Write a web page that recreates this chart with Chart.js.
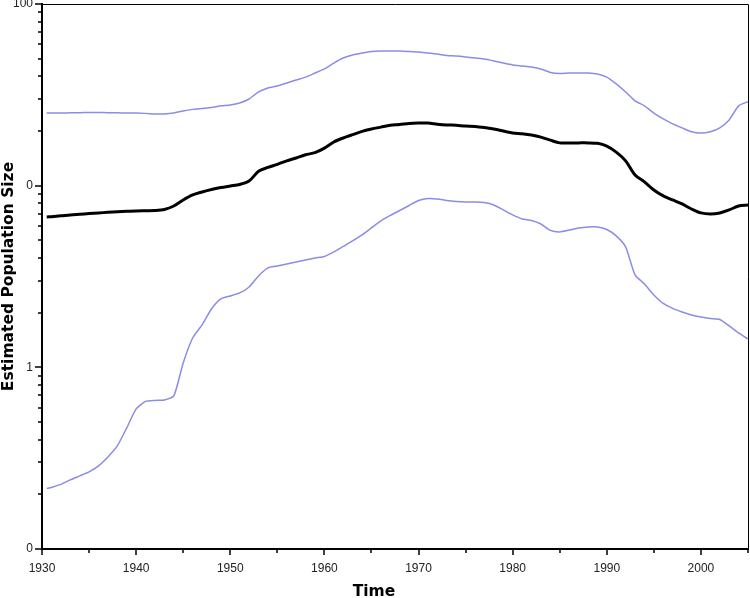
<!DOCTYPE html>
<html><head><meta charset="utf-8">
<script src="https://cdn.jsdelivr.net/npm/chart.js@4/dist/chart.umd.min.js"></script>
<style>html,body{margin:0;padding:0;background:#fff;}</style>
</head><body>
<canvas id="c" width="750" height="598"></canvas>
<script>
const years = [1930.5,
  1931,1932,1933,1934,1935,1936,1937,1938,1939,1940,
  1941,1942,1943,1944,1945,1946,1947,1948,1949,1950,
  1951,1952,1953,1954,1955,1956,1957,1958,1959,1960,
  1961,1962,1963,1964,1965,1966,1967,1968,1969,1970,
  1971,1972,1973,1974,1975,1976,1977,1978,1979,1980,
  1981,1982,1983,1984,1985,1986,1987,1988,1989,1990,
  1991,1992,1993,1994,1995,1996,1997,1998,1999,2000,
  2001,2002,2003,2004,2005];
const upperBound = [25.1,
  25.1,25.1,25.2,25.2,25.3,25.3,25.2,25.2,25.1,25.1,
  25.0,24.8,24.8,25.1,25.8,26.3,26.6,26.9,27.5,27.8,
  28.5,30.0,32.8,34.5,35.4,36.7,38.2,39.6,41.7,43.9,
  47.3,50.4,52.4,53.7,54.8,55.1,55.1,55.1,54.8,54.4,
  53.7,53.0,52.1,51.7,51.1,50.4,49.8,48.6,47.3,46.2,
  45.6,45.0,43.9,42.0,41.4,41.7,41.7,41.7,41.2,39.6,
  36.3,32.8,29.3,27.5,25.1,23.3,21.9,20.8,19.8,19.5,
  19.8,20.8,23.0,27.5,29.0];
const median = [6.72,
  6.75,6.82,6.90,6.96,7.02,7.08,7.13,7.18,7.22,7.26,
  7.28,7.30,7.40,7.73,8.34,8.89,9.23,9.53,9.77,9.96,
  10.15,10.6,12.0,12.6,13.1,13.7,14.2,14.8,15.2,16.1,
  17.4,18.3,19.1,19.9,20.5,21.0,21.5,21.7,22.0,22.1,
  22.1,21.8,21.6,21.5,21.3,21.2,20.9,20.5,20.0,19.5,
  19.3,19.0,18.5,17.8,17.2,17.2,17.2,17.2,17.1,16.5,
  15.3,13.7,11.45,10.5,9.47,8.78,8.34,7.93,7.44,7.08,
  6.99,7.08,7.35,7.73,7.83];
const lowerBound = [0.2156,
  0.2183,0.2268,0.2401,0.2525,0.2656,0.2867,0.3213,0.3694,0.4639,0.5903,
  0.6493,0.6576,0.6618,0.6962,1.057,1.451,1.711,2.096,2.379,2.472,
  2.568,2.770,3.184,3.525,3.615,3.708,3.803,3.900,4.000,4.076,
  4.316,4.628,4.962,5.355,5.851,6.394,6.855,7.30,7.78,8.29,
  8.50,8.45,8.29,8.19,8.14,8.14,8.08,7.83,7.35,6.90,
  6.56,6.43,6.15,5.67,5.56,5.70,5.85,5.93,5.93,5.74,
  5.29,4.60,3.225,2.877,2.503,2.247,2.110,2.018,1.943,1.894,
  1.858,1.835,1.690,1.546,1.433];
const xTickValues = [1930,1940,1950,1960,1970,1980,1990,2000];
const yTickValues = [0.1,1,10,100];
const yTickLabels = ['0','1','0','100'];
const xTitle = 'Time';
const yTitle = 'Estimated Population Size';

const toPts = arr => years.map((yr,i)=>({x:yr, y:arr[i]}));

const axisDecor = {
  id:'axisDecor',
  afterDraw(chart){
    const {ctx, chartArea:a, scales:{x,y}} = chart;
    ctx.save();
    ctx.strokeStyle = '#000';
    ctx.lineWidth = 1;
    ctx.beginPath();
    ctx.moveTo(a.left, a.top+0.5);
    ctx.lineTo(a.right+0.5, a.top+0.5);
    ctx.lineTo(a.right+0.5, a.bottom);
    ctx.stroke();
    ctx.lineWidth = 1.5;
    ctx.beginPath();
    for (let v = x.min; v <= x.max; v += 5) {
      const px = Math.round(x.getPixelForValue(v));
      const len = (v % 10 === 0) ? 6 : 4;
      ctx.moveTo(px, a.bottom);
      ctx.lineTo(px, a.bottom + len);
    }
    for (const d of [0.1, 1, 10]) {
      for (let k = 1; k <= 10; k++) {
        const py = Math.round(y.getPixelForValue(d*k));
        const len = (k === 1 || k === 10) ? 7 : 4;
        ctx.moveTo(a.left - len, py);
        ctx.lineTo(a.left, py);
      }
    }
    ctx.stroke();
    ctx.restore();
  }
};

new Chart(document.getElementById('c'), {
  type:'line',
  data:{
    datasets:[
      {data:toPts(upperBound), borderColor:'#8c8ce6', borderWidth:1.5, pointRadius:0, tension:0.2, fill:false},
      {data:toPts(lowerBound), borderColor:'#8c8ce6', borderWidth:1.5, pointRadius:0, tension:0.2, fill:false},
      {data:toPts(median), borderColor:'#000', borderWidth:3, pointRadius:0, tension:0.3, fill:false}
    ]
  },
  options:{
    responsive:false, animation:false, devicePixelRatio:1,
    layout:{padding:{left:0, right:2, top:4, bottom:0}},
    plugins:{
      legend:{display:false}, tooltip:{enabled:false},
      title:{display:true, text:xTitle, position:'bottom', color:'#000',
        font:{family:'DejaVu Sans', size:15.5, weight:'bold', lineHeight:'12px'}, padding:{top:0,bottom:0}},
      subtitle:{display:true, text:yTitle, position:'left', color:'#000', fullSize:false,
        font:{family:'DejaVu Sans', size:15.5, weight:'bold', lineHeight:'6px'}, padding:{top:6,bottom:0}}
    },
    scales:{
      x:{type:'linear', min:1930, max:2005,
        grid:{display:false, drawTicks:false},
        border:{display:true, color:'#000', width:2},
        afterBuildTicks: s => { s.ticks = xTickValues.map(v=>({value:v})); },
        ticks:{color:'#222', font:{family:'Liberation Sans', size:12}, padding:12.5, maxRotation:0, autoSkip:false,
          callback: v => String(v)},
        afterFit: s => { s.height = 37; s.paddingLeft = 0; s.paddingRight = 0; }
      },
      y:{type:'logarithmic', min:0.1, max:100,
        grid:{display:false, drawTicks:false},
        border:{display:true, color:'#000', width:2},
        afterBuildTicks: s => { s.ticks = yTickValues.map(v=>({value:v})); },
        ticks:{color:'#222', font:{family:'Liberation Sans', size:12}, padding:9, autoSkip:false,
          callback: (v, i) => yTickLabels[i]},
        afterFit: s => { s.width = 30; s.paddingTop = 0; s.paddingBottom = 0; }
      }
    }
  },
  plugins:[axisDecor]
});
</script>
</body></html>
